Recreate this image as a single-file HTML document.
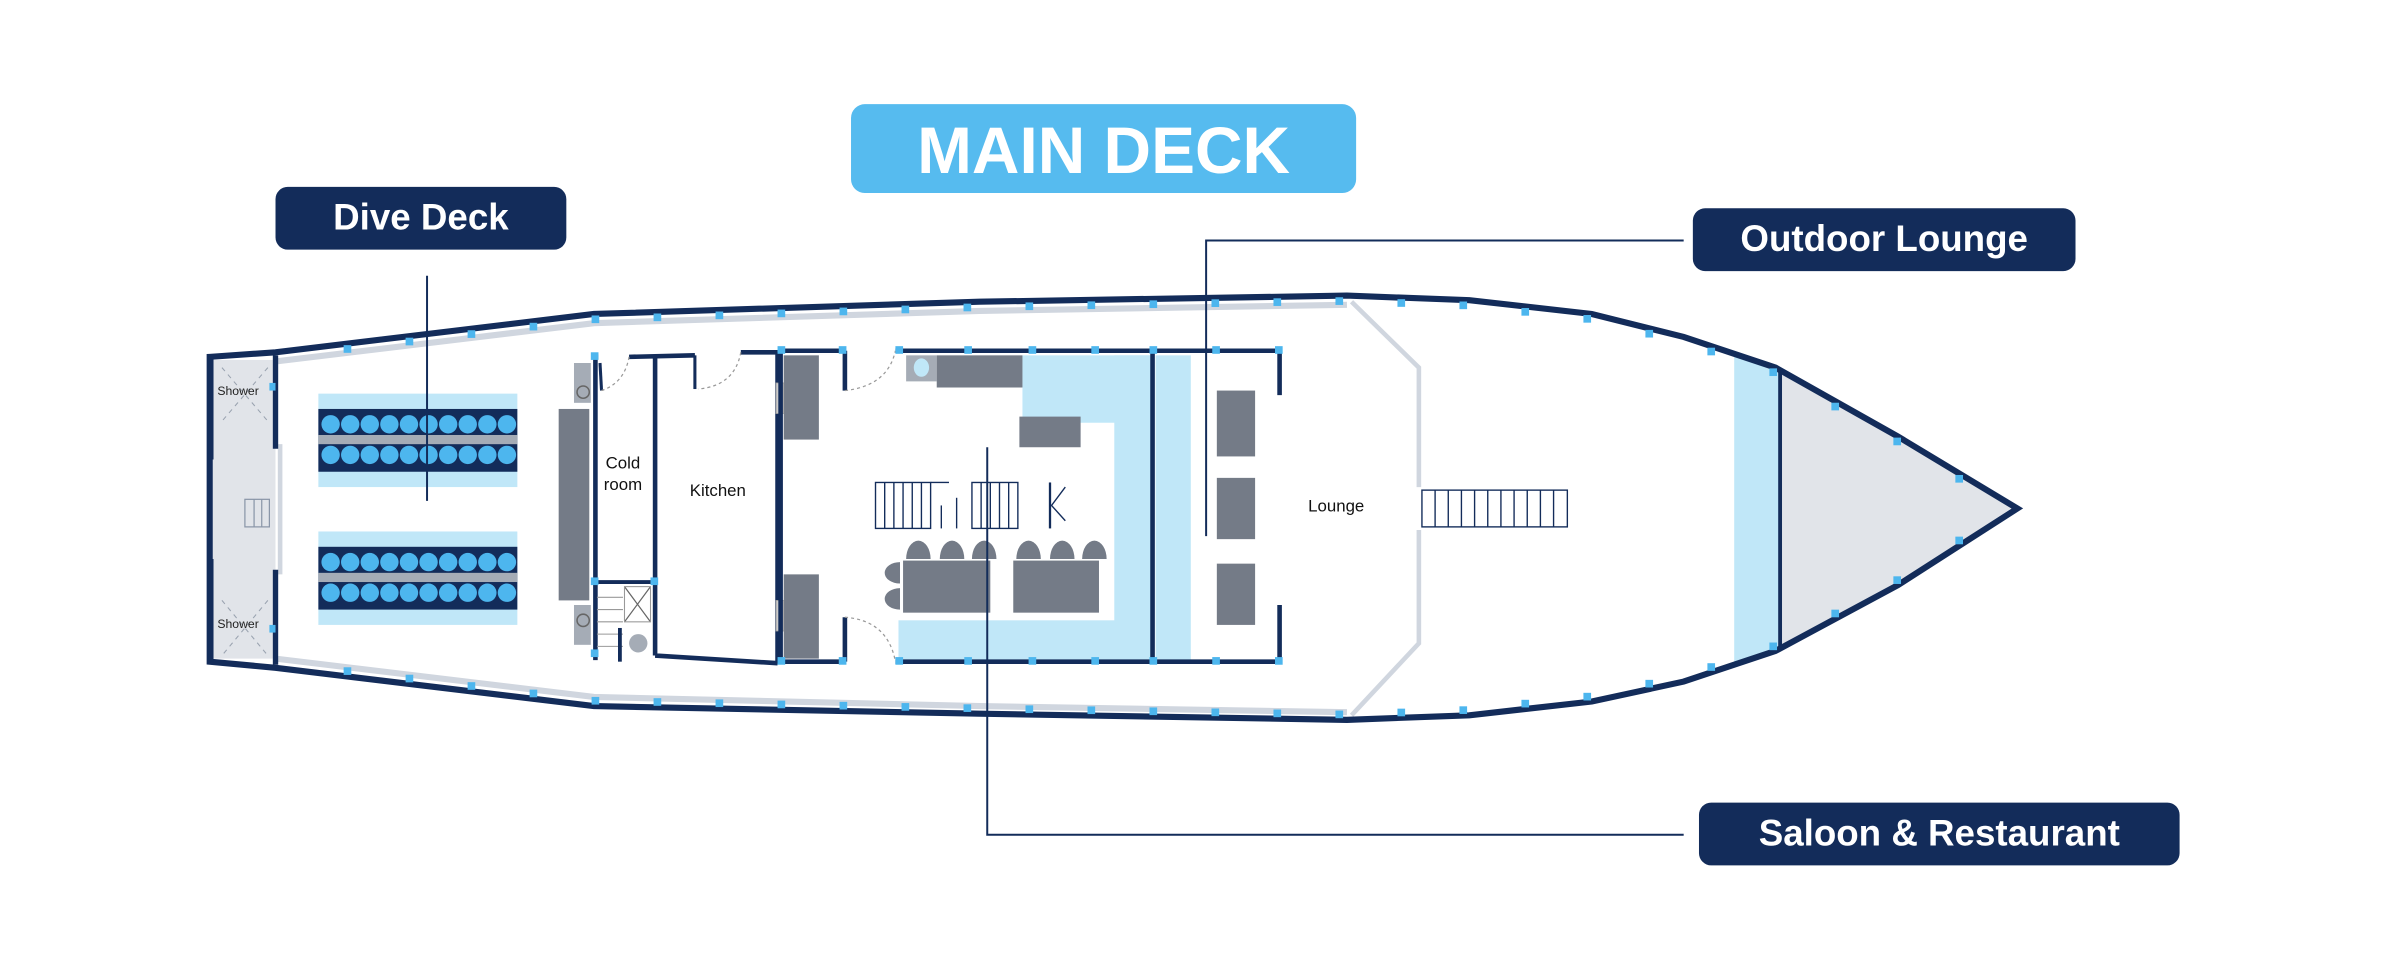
<!DOCTYPE html>
<html><head><meta charset="utf-8"><style>
html,body{margin:0;padding:0;background:#fff;}
svg{display:block;}
text{font-family:"Liberation Sans",sans-serif;}
</style></head><body>
<svg id="s" width="2400" height="968" viewBox="0 0 1568 632" preserveAspectRatio="none" xmlns="http://www.w3.org/2000/svg">
<path d="M137,233 L180,230 L388,205 L640,197 L880,193 L960,196 L1040,205 L1100,220 L1160,240 L1240,285 L1318,332 L1240,382 L1160,425 L1100,445 L1040,458 L960,467 L880,470 L640,466 L388,461 L180,436 L137,432 Z" fill="#fff"/>
<rect x="139" y="235" width="41" height="195" fill="#e1e4e9"/>
<path d="M1163,242 L1240,287 L1314,332 L1240,380 L1163,423 Z" fill="#e1e4e9"/>
<path d="M1133,232 L1163,242 L1163,423 L1133,433 Z" fill="#c0e7f8"/>
<line x1="1163" y1="242" x2="1163" y2="423" stroke="#132c5a" stroke-width="2.5"/>
<path d="M180,236 L388,211 L640,203 L880,199 M880,465 L640,461 L388,455 L180,430" fill="none" stroke="#d0d6df" stroke-width="4"/>
<path d="M883,197 L927,240 L927,318 M927,346 L927,420 L883,467" fill="none" stroke="#d0d6df" stroke-width="3"/>
<line x1="183" y1="290" x2="183" y2="375" stroke="#d0d6df" stroke-width="3"/>
<path d="M137,233 L180,230 L388,205 L640,197 L880,193 L960,196 L1040,205 L1100,220 L1160,240 L1240,285 L1318,332 L1240,382 L1160,425 L1100,445 L1040,458 L960,467 L880,470 L640,466 L388,461 L180,436 L137,432 Z" fill="none" stroke="#132c5a" stroke-width="4" stroke-linejoin="miter"/>
<path d="M180,232 L180,293 M180,372 L180,434" stroke="#132c5a" stroke-width="3.5"/>
<path d="M138,233 L138,300 M138,365 L138,432" stroke="#132c5a" stroke-width="3"/>
<g stroke="#9aa3b0" stroke-width="0.7" stroke-dasharray="3,3">
<line x1="145" y1="240" x2="175" y2="275"/><line x1="175" y1="240" x2="145" y2="275"/>
<line x1="145" y1="392" x2="175" y2="428"/><line x1="175" y1="392" x2="145" y2="428"/>
</g>
<text x="142" y="258" font-size="8" fill="#222">Shower</text>
<text x="142" y="410" font-size="8" fill="#222">Shower</text>
<rect x="160" y="326" width="16" height="18" fill="none" stroke="#8a96a8" stroke-width="0.8"/>
<line x1="166" y1="326" x2="166" y2="344" stroke="#8a96a8" stroke-width="0.8"/>
<line x1="171" y1="326" x2="171" y2="344" stroke="#8a96a8" stroke-width="0.8"/>
<rect x="208" y="257" width="130" height="61" fill="#c0e7f8"/>
<rect x="208" y="267" width="130" height="41" fill="#132c5a"/>
<rect x="208" y="284" width="130" height="6" fill="#a5acb6"/>
<rect x="208" y="347" width="130" height="61" fill="#c0e7f8"/>
<rect x="208" y="357" width="130" height="41" fill="#132c5a"/>
<rect x="208" y="374" width="130" height="6" fill="#a5acb6"/>
<g id="circles" fill="#4db6ee"></g>
<rect x="365" y="267" width="20" height="125" fill="#747b87"/>
<rect x="375" y="237" width="11" height="26" fill="#a5acb6"/>
<rect x="375" y="395" width="11" height="26" fill="#a5acb6"/>
<circle cx="381" cy="256" r="4" fill="none" stroke="#666" stroke-width="1"/>
<circle cx="381" cy="405" r="4" fill="none" stroke="#666" stroke-width="1"/>
<path d="M389,233 L389,431" stroke="#132c5a" stroke-width="3"/>
<path d="M389,233 L391,233 M411,233 L454,232 M484,230 L508,230 M428,233 L428,428 M508,230 L508,433 M428,428 L508,433" fill="none" stroke="#132c5a" stroke-width="3"/>
<path d="M454,232 L454,254" stroke="#132c5a" stroke-width="2"/>
<path d="M392,237 L393,255" stroke="#132c5a" stroke-width="2"/>
<path d="M389,380 L428,380" stroke="#132c5a" stroke-width="2.5"/>
<path d="M393,255 Q408,250 411,233 M484,230 Q480,252 456,254" fill="none" stroke="#999" stroke-width="0.8" stroke-dasharray="2,2"/>
<path d="M408,383 L425,406 M425,383 L408,406" stroke="#666" stroke-width="0.8"/>
<rect x="408" y="383" width="17" height="23" fill="none" stroke="#999" stroke-width="0.7"/>
<g stroke="#999" stroke-width="0.7"><line x1="390" y1="390" x2="407" y2="390"/><line x1="390" y1="398" x2="407" y2="398"/><line x1="390" y1="406" x2="407" y2="406"/><line x1="390" y1="414" x2="407" y2="414"/><line x1="390" y1="422" x2="407" y2="422"/></g>
<path d="M405,410 L405,432" stroke="#132c5a" stroke-width="2.5"/>
<circle cx="417" cy="420" r="6" fill="#a5acb6"/>
<text x="407" y="306" font-size="11" fill="#111" text-anchor="middle">Cold</text>
<text x="407" y="320" font-size="11" fill="#111" text-anchor="middle">room</text>
<text x="469" y="324" font-size="11" fill="#111" text-anchor="middle">Kitchen</text>
<rect x="668" y="232" width="85" height="44" fill="#c0e7f8"/>
<rect x="728" y="232" width="25" height="190" fill="#c0e7f8"/>
<rect x="587" y="405" width="166" height="27" fill="#c0e7f8"/>
<rect x="755" y="232" width="23" height="200" fill="#c0e7f8"/>
<rect x="512" y="232" width="23" height="55" fill="#747b87"/>
<rect x="512" y="375" width="23" height="55" fill="#747b87"/>
<rect x="507" y="250" width="5" height="20" fill="#ccc" stroke="#999" stroke-width="0.5"/>
<rect x="507" y="392" width="5" height="20" fill="#ccc" stroke="#999" stroke-width="0.5"/>
<rect x="592" y="232" width="20" height="17" fill="#a5acb6"/>
<ellipse cx="602" cy="240" rx="5" ry="6" fill="#c0e7f8"/>
<rect x="612" y="232" width="56" height="21" fill="#747b87"/>
<rect x="666" y="272" width="40" height="20" fill="#747b87"/>
<path d="M510,229 L552,229 M585,229 L836,229 M510,432 L552,432 M585,432 L836,432 M510,229 L510,432 M753,229 L753,432 M836,229 L836,258 M836,395 L836,432 M552,229 L552,255 M552,403 L552,432" fill="none" stroke="#132c5a" stroke-width="3"/>
<path d="M552,255 Q580,252 585,229 M552,403 Q580,405 585,432" fill="none" stroke="#999" stroke-width="0.8" stroke-dasharray="2,2"/>
<g fill="none" stroke="#132c5a" stroke-width="0.9">
<rect x="572" y="315" width="36" height="30"/>
<rect x="635" y="315" width="30" height="30"/>
<line x1="578" y1="315" x2="578" y2="345"/><line x1="584" y1="315" x2="584" y2="345"/><line x1="590" y1="315" x2="590" y2="345"/><line x1="596" y1="315" x2="596" y2="345"/><line x1="602" y1="315" x2="602" y2="345"/>
<line x1="641" y1="315" x2="641" y2="345"/><line x1="647" y1="315" x2="647" y2="345"/><line x1="653" y1="315" x2="653" y2="345"/><line x1="659" y1="315" x2="659" y2="345"/>
<line x1="608" y1="315" x2="620" y2="315"/><line x1="615" y1="330" x2="615" y2="345"/><line x1="625" y1="325" x2="625" y2="345"/>
<line x1="686" y1="315" x2="686" y2="345" stroke-width="1.5"/><path d="M696,318 L687,330 L696,340"/>
</g>
<rect x="590" y="366" width="57" height="34" fill="#747b87"/>
<rect x="662" y="366" width="56" height="34" fill="#747b87"/>
<g fill="#747b87">
<path d="M592,365 a8,12 0 0 1 16,0 Z"/><path d="M614,365 a8,12 0 0 1 16,0 Z"/><path d="M635,365 a8,12 0 0 1 16,0 Z"/>
<path d="M664,365 a8,12 0 0 1 16,0 Z"/><path d="M686,365 a8,12 0 0 1 16,0 Z"/><path d="M707,365 a8,12 0 0 1 16,0 Z"/>
<path d="M588,367 a10,7 0 0 0 0,14 Z"/><path d="M588,384 a10,7 0 0 0 0,14 Z"/>
</g>
<rect x="795" y="255" width="25" height="43" fill="#747b87"/>
<rect x="795" y="312" width="25" height="40" fill="#747b87"/>
<rect x="795" y="368" width="25" height="40" fill="#747b87"/>
<text x="873" y="334" font-size="11" fill="#111" text-anchor="middle">Lounge</text>
<g fill="none" stroke="#132c5a" stroke-width="0.9" id="stairs">
<rect x="929" y="320" width="95" height="24"/>
</g>
<g id="dots" fill="#4db6ee"></g>
<g fill="#4db6ee">
<rect x="176" y="250" width="4" height="5"/><rect x="176" y="408" width="4" height="5"/>
<rect x="386" y="230" width="5" height="5"/><rect x="386" y="377" width="5" height="5"/><rect x="425" y="377" width="5" height="5"/><rect x="386" y="424" width="5" height="5"/>
<rect x="548" y="226" width="5" height="5"/><rect x="585" y="226" width="5" height="5"/><rect x="630" y="226" width="5" height="5"/><rect x="672" y="226" width="5" height="5"/><rect x="713" y="226" width="5" height="5"/><rect x="751" y="226" width="5" height="5"/><rect x="792" y="226" width="5" height="5"/><rect x="833" y="226" width="5" height="5"/>
<rect x="548" y="429" width="5" height="5"/><rect x="585" y="429" width="5" height="5"/><rect x="630" y="429" width="5" height="5"/><rect x="672" y="429" width="5" height="5"/><rect x="713" y="429" width="5" height="5"/><rect x="751" y="429" width="5" height="5"/><rect x="792" y="429" width="5" height="5"/><rect x="833" y="429" width="5" height="5"/>
<rect x="508" y="226" width="5" height="5"/><rect x="508" y="429" width="5" height="5"/>
</g>
<g stroke="#132c5a" stroke-width="1.3" fill="none">
<path d="M279,180 L279,327"/>
<path d="M1100,157 L788,157 L788,350"/>
<path d="M645,292 L645,545 L1100,545"/>
</g>
<rect x="556" y="68" width="330" height="58" rx="9" fill="#56bbef"/>
<text x="721" y="113" font-size="43" font-weight="bold" fill="#fff" text-anchor="middle">MAIN DECK</text>
<rect x="180" y="122" width="190" height="41" rx="8" fill="#132c5a"/>
<text x="275" y="150" font-size="24" font-weight="bold" fill="#fff" text-anchor="middle">Dive Deck</text>
<rect x="1106" y="136" width="250" height="41" rx="8" fill="#132c5a"/>
<text x="1231" y="164" font-size="24" font-weight="bold" fill="#fff" text-anchor="middle">Outdoor Lounge</text>
<rect x="1110" y="524" width="314" height="41" rx="8" fill="#132c5a"/>
<text x="1267" y="552" font-size="24" font-weight="bold" fill="#fff" text-anchor="middle">Saloon &amp; Restaurant</text>
</svg>
<script>
(function(){
var NS="http://www.w3.org/2000/svg";
function el(p,t,a){var e=document.createElementNS(NS,t);for(var k in a)e.setAttribute(k,a[k]);p.appendChild(e);return e;}
var c=document.getElementById("circles");
[[277,297],[367,387]].forEach(function(ys){ys.forEach(function(y){for(var i=0;i<10;i++)el(c,"circle",{cx:216+i*12.8,cy:y,r:6});});});
var st=document.getElementById("stairs");
for(var i=1;i<11;i++)el(st,"line",{x1:929+i*8.6,y1:320,x2:929+i*8.6,y2:344});
var tp=[[180,230],[388,205],[640,197],[880,193],[960,196],[1040,205],[1100,220],[1160,240],[1240,285],[1318,332]];
var bt=[[180,436],[388,461],[640,466],[880,470],[960,467],[1040,458],[1100,445],[1160,425],[1240,382],[1318,332]];
function yAt(pts,x){for(var i=0;i<pts.length-1;i++){if(x>=pts[i][0]&&x<=pts[i+1][0]){var t=(x-pts[i][0])/(pts[i+1][0]-pts[i][0]);return pts[i][1]+t*(pts[i+1][1]-pts[i][1]);}}return pts[0][1];}
var d=document.getElementById("dots");
for(var x=227;x<1300;x+=40.5){
 el(d,"rect",{x:x-2.5,y:yAt(tp,x)+1,width:5,height:5});
 el(d,"rect",{x:x-2.5,y:yAt(bt,x)-6,width:5,height:5});
}
})();
</script>
</body></html>
